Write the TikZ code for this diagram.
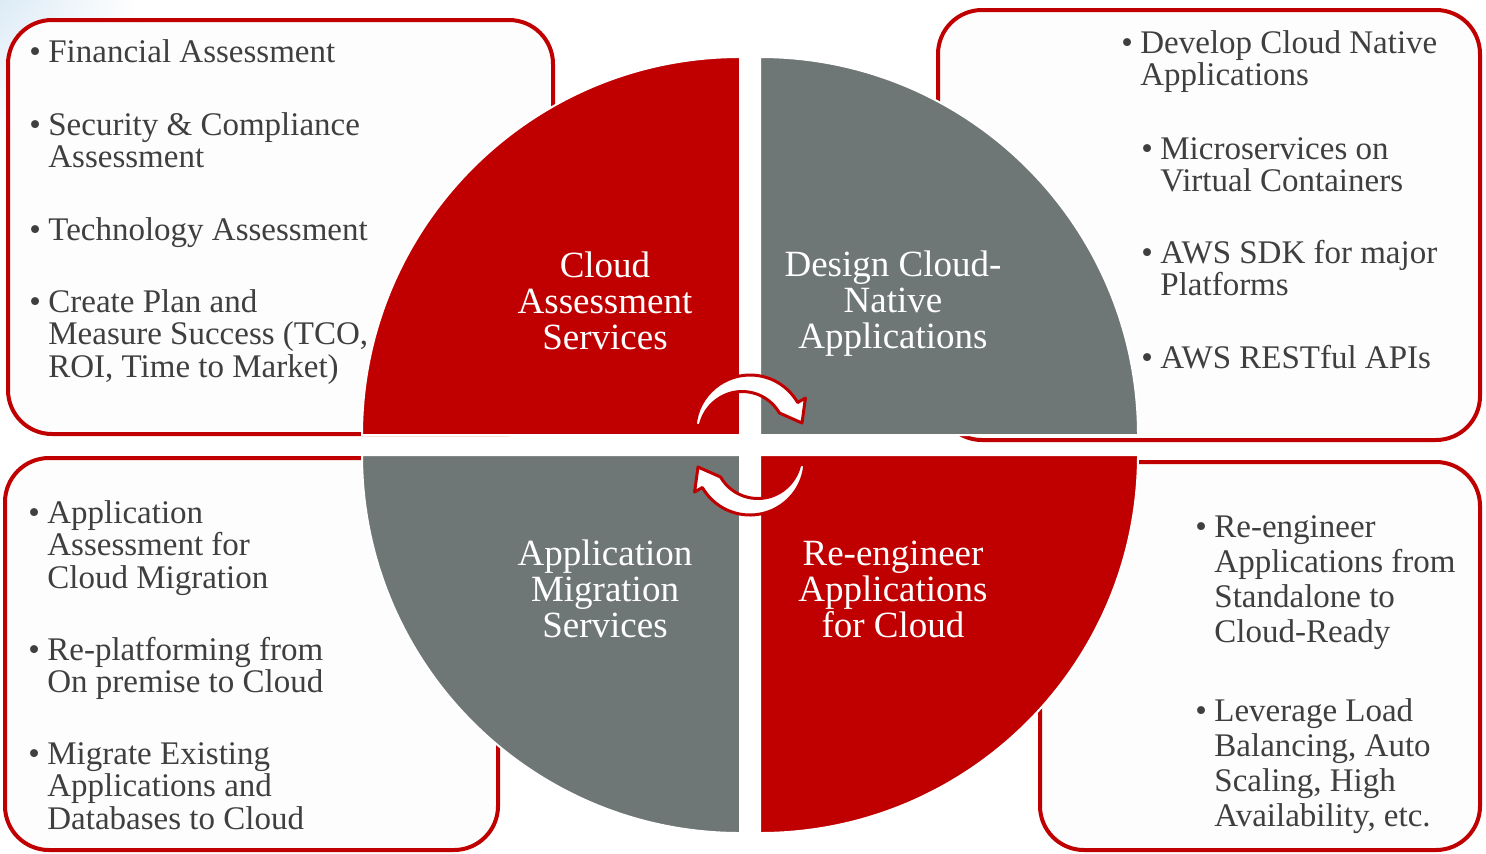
\documentclass[tikz,border=0pt]{standalone}
\usepackage{fontspec}
\setmainfont{Liberation Serif}
\usetikzlibrary{positioning, shadings}
\definecolor{ppred}{HTML}{C00000}
\definecolor{ppgray}{HTML}{6F7776}
\definecolor{txtgray}{HTML}{3F3F3F}
\definecolor{boxfill}{HTML}{FDFDFD}
\definecolor{bgblue}{HTML}{DCEBF6}
\tikzstyle{panel} = [draw=ppred, line width=2pt, fill=boxfill, rounded corners=22pt]
\tikzstyle{redq} = [fill=ppred, draw=white, line width=1pt]
\tikzstyle{grayq} = [fill=ppgray, draw=white, line width=1pt]
\tikzstyle{qtext} = [text=white, align=center, font=\fontsize{18.5}{18}\selectfont]
\tikzstyle{itemtext} = [anchor=base west, inner sep=0pt, text=txtgray, font=\fontsize{16.5}{16}\selectfont]
\tikzstyle{swirl} = [fill=white, draw=ppred, line width=1.5pt, line join=round]
\newcommand{\bitem}[1]{\makebox[9.5pt][l]{\textbullet}\begin{tabular}[t]{@{}l@{}}#1\end{tabular}}

\begin{document}
\begin{tikzpicture}[x=0.5pt, y=-0.5pt]
\useasboundingbox (0,0) rectangle (1486,853);
\fill[white] (0,0) rectangle (1486,853);
\shade[upper left=bgblue, upper right=white, lower left=white, lower right=white] (0,0) rectangle (140,140);

% text panels
\draw[panel] (8,20) rectangle (553,434);
\draw[panel] (938,10) rectangle (1480,440);
\draw[panel] (5,458) rectangle (498,850);
\draw[panel] (1040,462) rectangle (1480,850);

% quarters of the wheel
\filldraw[redq] (740,435) -- (362,435) arc[start angle=180, end angle=270, radius=378] -- cycle;
\filldraw[grayq] (760,435) -- (760,57) arc[start angle=270, end angle=360, radius=378] -- cycle;
\filldraw[grayq] (740,455) -- (362,455) arc[start angle=180, end angle=90, radius=378] -- cycle;
\filldraw[redq] (760,455) -- (1138,455) arc[start angle=0, end angle=90, radius=378] -- cycle;

\node[qtext] (assess) at (605,301) {Cloud\\Assessment\\Services};
\node[qtext] (design) at (893,304) {Design Cloud-\\Native\\Applications};
\node[qtext] (migrate) at (605,589) {Application\\Migration\\Services};
\node[qtext] (reeng) at (893,589) {Re-engineer\\Applications\\for Cloud};

% round arrows in the middle
\foreach \cy/\rot in {430/0, 460/180}
  \draw[swirl, shift={(750,\cy)}, yscale=-1, rotate=\rot]
    (175:43) -- (175:55) arc[start angle=175, end angle=30, radius=55]
    -- (30:64) -- (52,7) -- (30:34) arc[start angle=30, end angle=175, radius=43] -- cycle;

% top left
\node[itemtext] (fin) at (29,62) {\bitem{Financial Assessment}};
\node[itemtext] (sec) at (29,135) {\bitem{Security \& Compliance\\Assessment}};
\node[itemtext] (tech) at (29,240) {\bitem{Technology Assessment}};
\node[itemtext] (plan) at (29,312) {\bitem{Create Plan and\\Measure Success (TCO,\\ROI, Time to Market)}};

% top right
\node[itemtext] (native) at (1121,53) {\bitem{Develop Cloud Native\\Applications}};
\node[itemtext] (micro) at (1141,159) {\bitem{Microservices on\\Virtual Containers}};
\node[itemtext] (sdk) at (1141,263) {\bitem{AWS SDK for major\\Platforms}};
\node[itemtext] (rest) at (1141,368) {\bitem{AWS RESTful APIs}};

% bottom left
\node[itemtext] (appass) at (28,523) {\bitem{Application\\Assessment for\\Cloud Migration}};
\node[itemtext] (replat) at (28,660) {\bitem{Re-platforming from\\On premise to Cloud}};
\node[itemtext] (existing) at (28,764) {\bitem{Migrate Existing\\Applications and\\Databases to Cloud}};

% bottom right
\node[itemtext, font=\fontsize{16.5}{17.5}\selectfont] (standalone) at (1195,537) {\bitem{Re-engineer\\Applications from\\Standalone to\\Cloud-Ready}};
\node[itemtext, font=\fontsize{16.5}{17.5}\selectfont] (balance) at (1195,721) {\bitem{Leverage Load\\Balancing, Auto\\Scaling, High\\Availability, etc.}};
\end{tikzpicture}
\end{document}
